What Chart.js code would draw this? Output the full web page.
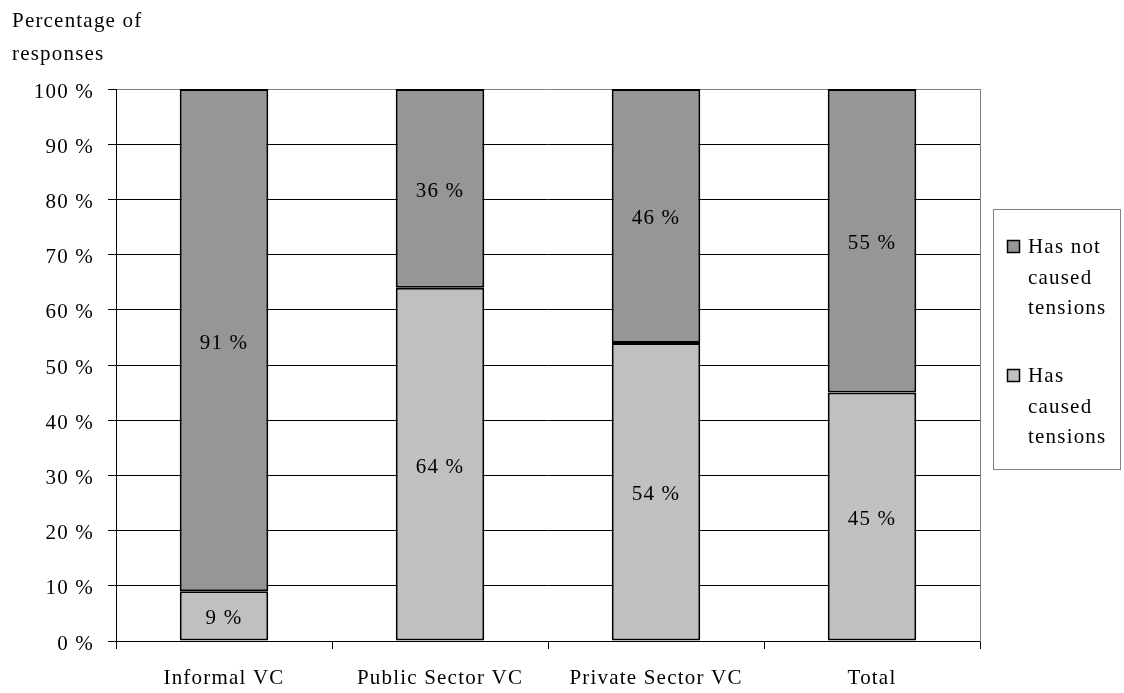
<!DOCTYPE html>
<html><head><meta charset="utf-8">
<script src="https://cdn.jsdelivr.net/npm/chart.js@4"></script>
<style>html,body{margin:0;padding:0;background:#fff}#wrap{width:1124px;height:693px;position:relative}</style>
</head><body><div id="wrap"><canvas id="c" width="1124" height="693"></canvas></div>
<script>
const categories = ["Informal VC", "Public Sector VC", "Private Sector VC", "Total"];
const hasCaused = [9, 64, 54, 45];
const hasNotCaused = [91, 36, 46, 55];
const seriesNames = [["Has", "caused", "tensions"], ["Has not", "caused", "tensions"]];
const yTicks = [0, 10, 20, 30, 40, 50, 60, 70, 80, 90, 100];
const yTitle = ["Percentage of", "responses"];

const FONT = "'Liberation Serif', 'Times New Roman', serif";
const FS = 21;
const LS = '1.2px';

const spacingPlugin = {
  id: 'spacing',
  beforeLayout(chart) { chart.ctx.letterSpacing = LS; },
  beforeDraw(chart) { chart.ctx.letterSpacing = LS; }
};

const labelsPlugin = {
  id: 'labels',
  afterDatasetsDraw(chart) {
    const ctx = chart.ctx;
    ctx.save();
    ctx.letterSpacing = LS;
    ctx.font = FS + 'px ' + FONT;
    ctx.fillStyle = '#000';
    ctx.textAlign = 'center';
    ctx.textBaseline = 'middle';
    chart.data.datasets.forEach((ds, di) => {
      const meta = chart.getDatasetMeta(di);
      meta.data.forEach((bar, i) => {
        const y = (bar.y + bar.base) / 2 + 3;
        ctx.fillText(ds.data[i] + ' %', bar.x, y);
      });
    });
    // y title
    ctx.textAlign = 'left';
    ctx.textBaseline = 'alphabetic';
    ctx.fillText(yTitle[0], 12, 27);
    ctx.fillText(yTitle[1], 12, 60);
    // legend box
    ctx.strokeStyle = '#808080';
    ctx.lineWidth = 1;
    ctx.strokeRect(993.5, 209.5, 127, 260);
    const items = [1, 0];
    items.forEach((di, k) => {
      const ds = chart.data.datasets[di];
      const base = 253 + k * 129;
      ctx.fillStyle = ds.backgroundColor;
      ctx.fillRect(1007, base - 13, 12, 12);
      ctx.strokeStyle = '#000';
      ctx.lineWidth = 1.5;
      ctx.strokeRect(1007.5, base - 12.5, 12, 12);
      ctx.fillStyle = '#000';
      seriesNames[di].forEach((t, j) => {
        ctx.fillText(t, 1028, base + j * 30.5);
      });
    });
    ctx.restore();
  }
};

new Chart(document.getElementById('c'), {
  type: 'bar',
  data: {
    labels: categories,
    datasets: [
      { label: 'Has caused tensions', data: hasCaused, backgroundColor: '#c0c0c0', borderColor: '#000', borderWidth: 2, borderSkipped: false, barPercentage: 0.82, categoryPercentage: 0.5 },
      { label: 'Has not caused tensions', data: hasNotCaused, backgroundColor: '#969696', borderColor: '#000', borderWidth: 2, borderSkipped: false, barPercentage: 0.82, categoryPercentage: 0.5 }
    ]
  },
  options: {
    responsive: false,
    animation: false,
    devicePixelRatio: 1,
    layout: { padding: { left: 0, right: 144, top: 89, bottom: 0 } },
    plugins: { legend: { display: false }, tooltip: { enabled: false } },
    scales: {
      x: {
        stacked: true,
        offset: true,
        grid: { offset: true, drawOnChartArea: false, drawTicks: true, tickLength: 8, color: '#000' },
        border: { display: true, color: '#000', width: 1 },
        ticks: { font: { family: FONT, size: FS }, color: '#000', padding: 17, maxRotation: 0 },
        afterFit(s) { s.height = 52; }
      },
      y: {
        stacked: true,
        min: 0, max: 100,
        afterBuildTicks(s) { s.ticks = yTicks.map(v => ({ value: v })); },
        grid: { color: ctx => ctx.tick && ctx.tick.value === 100 ? '#808080' : '#000', tickLength: 8, tickColor: '#000', lineWidth: 1 },
        border: { display: true, color: '#000', width: 1 },
        ticks: { font: { family: FONT, size: FS }, color: '#000', padding: 14, labelOffset: 3, callback: v => v + ' %' },
        afterFit(s) { s.width = 116; }
      },
      yr: {
        position: 'right', display: true, min: 0, max: 100,
        grid: { drawOnChartArea: false, drawTicks: false },
        border: { display: true, color: '#808080', width: 1 },
        ticks: { display: false },
        afterFit(s) { s.width = 0; }
      }
    }
  },
  plugins: [spacingPlugin, labelsPlugin]
});
</script></body></html>
